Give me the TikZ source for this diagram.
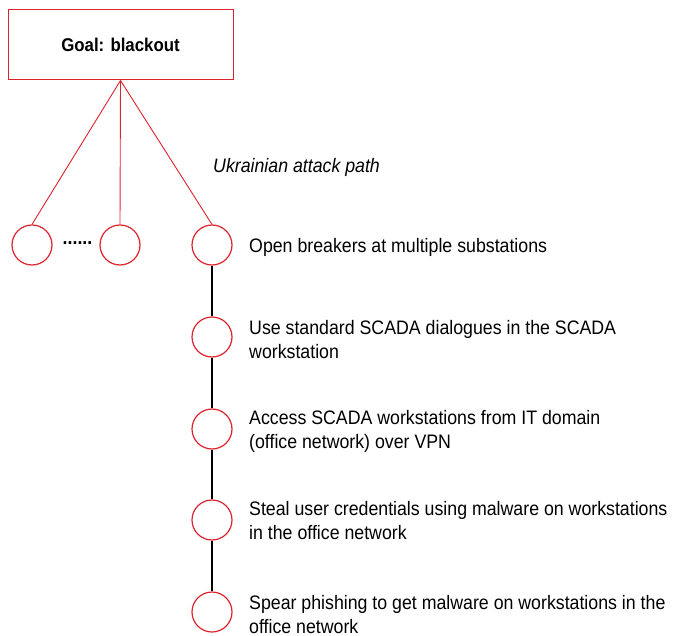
\documentclass[tikz,border=0pt]{standalone}
\usepackage{fontspec}
\setmainfont{Liberation Sans}[FakeStretch=0.91]
\definecolor{treered}{RGB}{220,35,45}
\tikzset{
  goalbox/.style={draw=treered, line width=1pt, minimum width=225pt, minimum height=70pt, inner sep=0pt,
    font=\bfseries\fontsize{18.5}{23}\selectfont},
  leaf/.style={draw=treered, line width=1.2pt, circle, minimum size=40pt, inner sep=0pt},
  % the base anchor of a two-line note sits on its last line
  stepnote/.style={anchor=base west, align=left, inner sep=0pt, font=\fontsize{19.5}{24}\selectfont},
  branch/.style={draw=treered, line width=0.9pt},
  chain/.style={draw=black, line width=1.2pt}
}
\begin{document}
\begin{tikzpicture}[x=1pt,y=-1pt]
\useasboundingbox (0,0) rectangle (674,636);
\node[goalbox] (goal) at (120.5,45) {Goal: blackout};
\node[leaf] (l1) at (32,245) {};
\node[leaf] (l2) at (120,245) {};
\node[leaf] (s1) at (212,245) {};
\node[leaf] (s2) at (212,337) {};
\node[leaf] (s3) at (212,429) {};
\node[leaf] (s4) at (212,520) {};
\node[leaf] (s5) at (212,612) {};
\node[font=\bfseries\fontsize{19.5}{23}\selectfont, inner sep=0pt] (dots) at (77.5,243) {......};
\node[anchor=base west, inner sep=0pt, font=\itshape\fontsize{19.5}{23}\selectfont] (path) at (213,173) {Ukrainian attack path};
\draw[branch] (goal.south) -- (l1.north);
\draw[branch] (goal.south) -- (l2.north);
\draw[branch] (goal.south) -- (s1.north);
\draw[chain] (s1) -- (s2);
\draw[chain] (s2) -- (s3);
\draw[chain] (s3) -- (s4);
\draw[chain] (s4) -- (s5);
\node[stepnote] (t1) at (249,252) {Open breakers at multiple substations};
\node[stepnote] (t2) at (249,358) {Use standard SCADA dialogues in the SCADA\\workstation};
\node[stepnote] (t3) at (249,448) {Access SCADA workstations from IT domain\\(office network) over VPN};
\node[stepnote] (t4) at (249,539) {Steal user credentials using malware on workstations\\in the office network};
\node[stepnote] (t5) at (249,633) {Spear phishing to get malware on workstations in the\\office network};
\end{tikzpicture}
\end{document}
